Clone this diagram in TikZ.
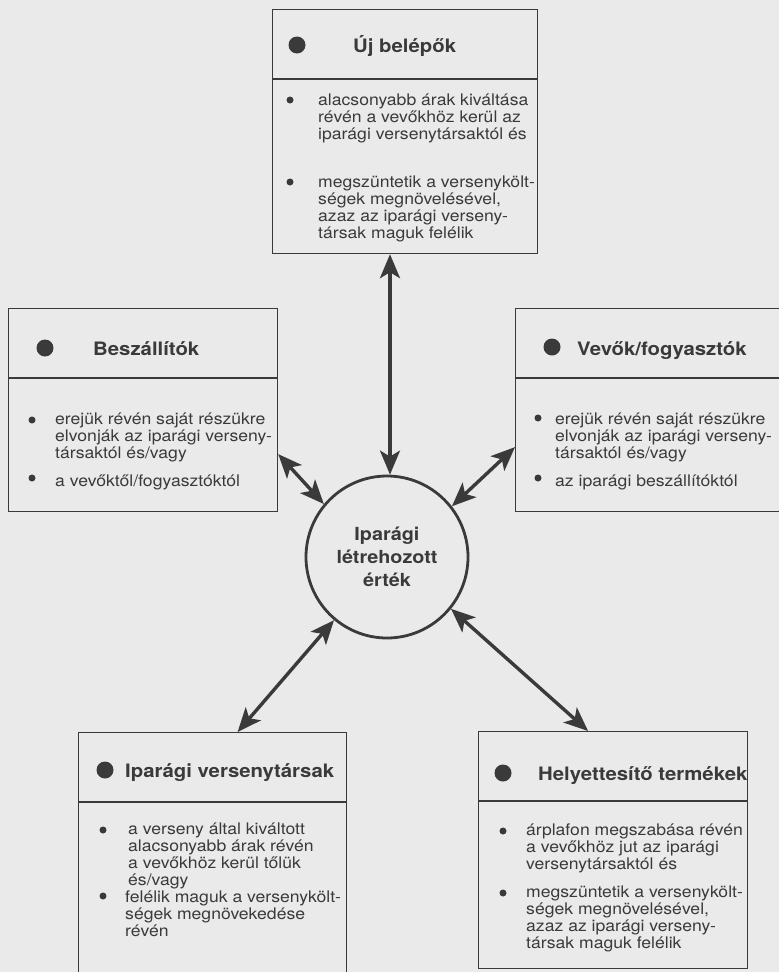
\documentclass[tikz,border=0pt]{standalone}
\usepackage{fontspec}
\setmainfont[FakeStretch=1.1]{TeX Gyre Heros}
\usepackage{xcolor}
\usepackage{tikz}
\usetikzlibrary{arrows.meta, positioning, calc}
\definecolor{paper}{RGB}{234,234,234}
\definecolor{ink}{RGB}{58,58,58}

\begin{document}
\begin{tikzpicture}[x=1pt, y=-1pt,
  box/.style={draw=ink, line width=1.2pt, rectangle, inner sep=0pt, anchor=north west},
  head/.style={font=\fontsize{18.5}{22}\selectfont\bfseries, text=ink, anchor=base west, inner sep=0pt},
  txt/.style={font=\fontsize{16}{17}\selectfont, text=ink, align=left, anchor=north west, inner sep=0pt,
              execute at begin node={\rule{0pt}{14pt}}},
  link/.style={draw=ink, line width=3.4pt, {Stealth[length=24pt,width=20pt,inset=6pt]}-{Stealth[length=24pt,width=20pt,inset=6pt]}}]

  % Page
  \useasboundingbox (0,0) rectangle (779,972);
  \clip (0,0) rectangle (779,972);
  \fill[paper] (0,0) rectangle (779,972);

  % Boxes
  \node[box, minimum width=265pt, minimum height=244pt] (uj) at (272,9) {};
  \node[box, minimum width=269pt, minimum height=203pt] (bes) at (8,308) {};
  \node[box, minimum width=280pt, minimum height=203pt] (vev) at (515,308) {};
  \node[box, minimum width=268pt, minimum height=280pt] (ipv) at (78,732) {};
  \node[box, minimum width=269pt, minimum height=237pt] (hel) at (478,731) {};

  % Header lines
  \foreach \b in {uj, bes, vev, ipv, hel}
    \draw[ink, line width=1.2pt] ([yshift=-70pt]\b.north west) -- ([yshift=-70pt]\b.north east);

  % Centre
  \node[circle, draw=ink, line width=2.8pt, minimum size=162pt, inner sep=0pt,
        align=center, text=ink, font=\fontsize{18}{23}\selectfont\bfseries]
        (val) at (387,557) {Iparági\\létrehozott\\érték};

  % Arrows
  \draw[link] ([xshift=3pt]val.north) -- ([xshift=3pt]val.north |- uj.south);
  \draw[link] ([yshift=-44pt]bes.east) -- (val.140);
  \draw[link] ([yshift=-37pt]vev.west) -- (val.38);
  \draw[link] (val.230) -- ([xshift=25pt]ipv.north);
  \draw[link] (val.321) -- ([xshift=-25pt]hel.north);

  % Uj belepok
  \fill[ink] (297,45) circle (8.5pt);
  \node[head] (ujh) at (353,52) {Új belépők};
  \fill[ink] (290,100) circle (3.5pt);
  \node[txt] (uj1) at (318,94) {alacsonyabb árak kiváltása\\révén a vevőkhöz kerül az\\iparági versenytársaktól és};
  \fill[ink] (290,182) circle (3.5pt);
  \node[txt] (uj2) at (318,176) {megszüntetik a versenykölt-\\ségek megnövelésével,\\azaz az iparági verseny-\\társak maguk felélik};

  % Beszallitok
  \fill[ink] (45,348) circle (8.5pt);
  \node[head] (besh) at (93,355) {Beszállítók};
  \fill[ink] (32,420) circle (3.5pt);
  \node[txt] (bes1) at (55,413) {erejük révén saját részükre\\elvonják az iparági verseny-\\társaktól és/vagy};
  \fill[ink] (32,478) circle (3.5pt);
  \node[txt] (bes2) at (55,472) {a vevőktől/fogyasztóktól};

  % Vevok
  \fill[ink] (552,347) circle (8.5pt);
  \node[head] (vevh) at (577,355) {Vevők/fogyasztók};
  \fill[ink] (538,418) circle (3.5pt);
  \node[txt] (vev1) at (555,413) {erejük révén saját részükre\\elvonják az iparági verseny-\\társaktól és/vagy};
  \fill[ink] (538,478) circle (3.5pt);
  \node[txt] (vev2) at (555,472) {az iparági beszállítóktól};

  % Versenytarsak
  \fill[ink] (105,770) circle (8.5pt);
  \node[head] (ipvh) at (125,777) {Iparági versenytársak};
  \fill[ink] (103,830) circle (3.5pt);
  \node[txt] (ipv1) at (128,823) {a verseny által kiváltott\\alacsonyabb árak révén\\a vevőkhöz kerül tőlük\\és/vagy};
  \fill[ink] (103,896) circle (3.5pt);
  \node[txt] (ipv2) at (125,891) {felélik maguk a versenykölt-\\ségek megnövekedése\\révén};

  % Helyettesito termekek
  \fill[ink] (503,773) circle (8.5pt);
  \node[head] (helh) at (538,780) {Helyettesítő termékek};
  \fill[ink] (503,831) circle (3.5pt);
  \node[txt] (hel1) at (526,824) {árplafon megszabása révén\\a vevőkhöz jut az iparági\\versenytársaktól és};
  \fill[ink] (503,893) circle (3.5pt);
  \node[txt] (hel2) at (526,886) {megszüntetik a versenykölt-\\ségek megnövelésével,\\azaz az iparági verseny-\\társak maguk felélik};
\end{tikzpicture}
\end{document}
